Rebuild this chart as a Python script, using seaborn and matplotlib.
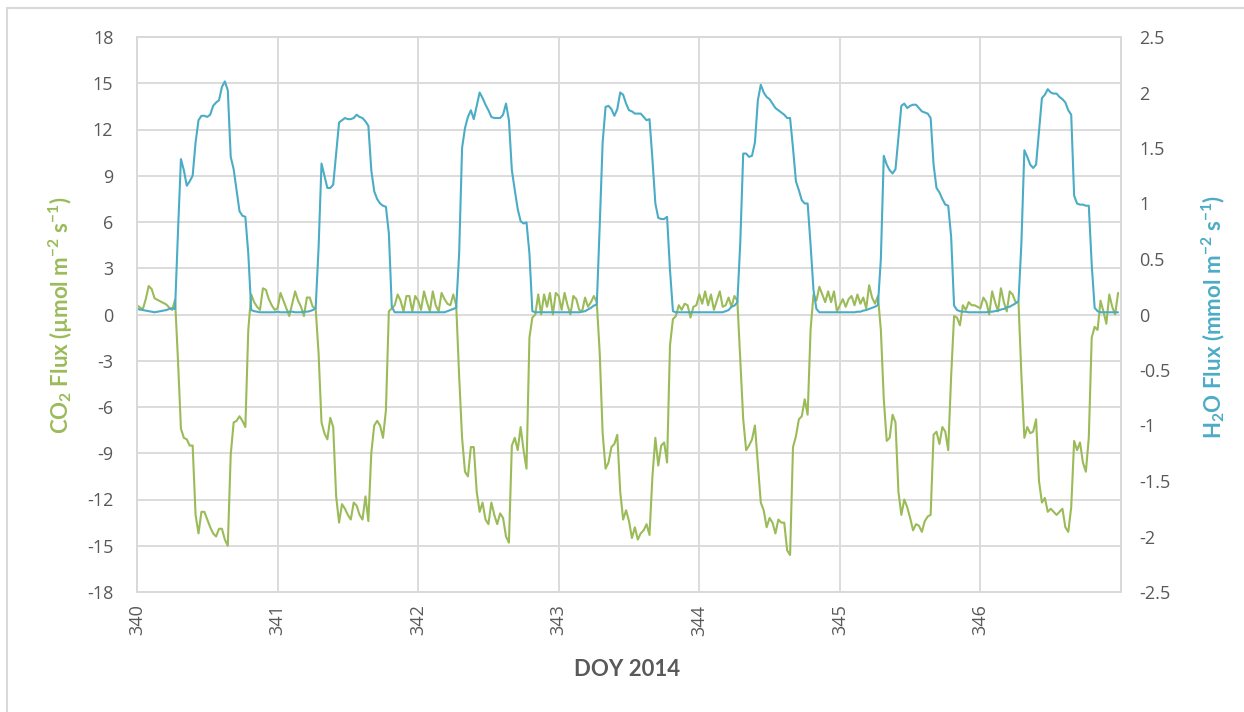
import numpy as np
import pandas as pd
import matplotlib
matplotlib.use("Agg")
import matplotlib.pyplot as plt
import seaborn as sns
from matplotlib.lines import Line2D

# ---------------- data (half-hourly, 48 values per day) ----------------
days = [340, 341, 342, 343, 344, 345, 346]
x_ticks = [340, 341, 342, 343, 344, 345, 346]
co2_ticks = [-18, -15, -12, -9, -6, -3, 0, 3, 6, 9, 12, 15, 18]
h2o_ticks = [-2.5, -2, -1.5, -1, -0.5, 0, 0.5, 1, 1.5, 2, 2.5]
h2o_ticklabels = ["-2.5", "-2", "-1.5", "-1", "-0.5", "0", "0.5", "1", "1.5", "2", "2.5"]

co2_340 = [0.6, 0.45, 0.35, 1.0, 1.85, 1.65, 1.05, 0.95, 0.85, 0.75, 0.65, 0.45, 0.3, 0.95,
           -3.0, -7.4, -8.0, -8.1, -8.5, -8.5, -13.0, -14.2, -12.8, -12.8, -13.3, -13.8, -14.2, -14.4,
           -13.9, -13.9, -14.6, -15.0, -9.1, -7.0, -6.9, -6.6, -6.9, -7.3, -1.0, 1.3, 0.8, 0.5,
           0.3, 1.7, 1.6, 1.0, 0.6, 0.3]
co2_341 = [0.4, 1.4, 0.9, 0.4, -0.1, 0.7, 1.5, 0.9, 0.5, -0.1, 1.1, 1.1, 0.5, 0.4,
           -2.5, -7.0, -7.7, -8.1, -6.7, -7.3, -11.8, -13.5, -12.3, -12.6, -13.0, -13.3, -12.2, -12.4,
           -13.0, -13.3, -11.8, -13.4, -9.0, -7.2, -6.9, -7.2, -8.0, -6.2, 0.2, 0.4, 0.6, 1.3,
           0.9, 0.2, 1.2, 1.2, 0.2, 1.2]
co2_342 = [0.9, 0.3, 1.5, 0.8, 0.2, 1.5, 0.6, 0.2, 1.4, 1.0, 0.7, 0.6, 1.3, 0.6,
           -4.0, -8.0, -10.2, -10.5, -8.6, -8.6, -11.5, -12.8, -12.2, -13.3, -13.6, -12.2, -13.0, -13.6,
           -12.9, -13.2, -14.4, -14.8, -8.5, -8.0, -8.8, -7.3, -8.8, -10.0, -1.5, -0.2, 0.0, 1.3,
           0.0, 1.3, 0.5, 1.4, 0.0, 1.4]
co2_343 = [1.2, 0.3, 1.4, 0.6, 0.0, 1.2, 1.0, 0.3, 0.2, 1.1, 0.5, 0.8, 1.2, 0.8,
           -2.5, -7.7, -10.0, -9.6, -8.6, -8.4, -7.8, -11.5, -13.3, -12.7, -13.4, -14.5, -13.8, -14.6,
           -14.2, -14.0, -13.6, -14.3, -10.5, -8.0, -9.8, -8.5, -8.3, -9.6, -2.0, -0.3, -0.1, 0.6,
           0.3, 0.7, 0.6, -0.2, 0.5, 0.6]
co2_344 = [1.3, 0.7, 1.5, 0.6, 1.3, 0.3, 0.9, 1.5, 0.5, 0.6, 1.1, 0.5, 1.2, 0.9,
           -2.9, -6.8, -8.8, -8.5, -8.1, -7.2, -9.7, -12.2, -12.7, -13.8, -13.2, -13.5, -14.2, -13.3,
           -13.5, -13.5, -15.3, -15.6, -8.6, -7.9, -6.8, -6.6, -5.5, -6.5, -1.0, 1.3, 0.9, 1.8,
           1.3, 0.8, 1.5, 0.8, 1.5, 0.2]
co2_345 = [0.6, 1.0, 0.5, 1.0, 1.2, 0.6, 1.3, 0.7, 1.1, 0.4, 1.9, 1.1, 0.7, 1.2,
           -1.0, -5.5, -8.2, -8.0, -6.5, -7.0, -11.5, -13.0, -12.0, -12.5, -13.2, -14.0, -13.6, -13.7,
           -14.1, -13.4, -13.1, -13.0, -7.8, -7.6, -8.4, -7.3, -7.6, -8.8, -4.0, -0.1, -0.2, -0.7,
           0.6, 0.3, 0.8, 0.6, 0.6, 0.5]
co2_346 = [0.4, 1.1, 0.8, 0.0, 1.5, 0.8, 0.2, 1.7, 0.8, 0.2, 1.5, 1.3, 0.8, 0.8,
           -4.0, -8.0, -7.3, -7.7, -7.6, -6.8, -10.8, -12.2, -11.9, -12.8, -12.6, -12.8, -13.0, -12.8,
           -12.6, -13.8, -14.1, -12.5, -8.2, -8.8, -8.3, -9.6, -10.2, -8.0, -1.5, -0.8, -1.0, 0.9,
           0.2, -0.6, 1.3, 0.5, 0.0, 1.4]

h2o_340 = [0.05, 0.045, 0.04, 0.035, 0.03, 0.025, 0.02, 0.025, 0.03, 0.035, 0.04, 0.05, 0.055, 0.05,
           0.75, 1.40, 1.30, 1.16, 1.20, 1.25, 1.55, 1.75, 1.79, 1.79, 1.78, 1.80, 1.88, 1.91,
           1.93, 2.05, 2.10, 2.02, 1.42, 1.31, 1.12, 0.93, 0.89, 0.88, 0.55, 0.04, 0.03, 0.025,
           0.02, 0.02, 0.02, 0.02, 0.02, 0.02]
h2o_341 = [0.025, 0.02, 0.02, 0.02, 0.025, 0.025, 0.02, 0.02, 0.02, 0.025, 0.025, 0.03, 0.04, 0.055,
           0.6, 1.36, 1.25, 1.14, 1.14, 1.17, 1.45, 1.73, 1.75, 1.77, 1.76, 1.76, 1.77, 1.80,
           1.78, 1.77, 1.74, 1.70, 1.30, 1.11, 1.04, 1.00, 0.98, 0.97, 0.73, 0.07, 0.02, 0.02,
           0.02, 0.02, 0.02, 0.02, 0.02, 0.02]
h2o_342 = [0.02, 0.02, 0.02, 0.02, 0.02, 0.02, 0.02, 0.02, 0.02, 0.02, 0.03, 0.04, 0.05, 0.06,
           0.55, 1.50, 1.68, 1.78, 1.84, 1.76, 1.88, 2.00, 1.95, 1.89, 1.84, 1.78, 1.77, 1.77,
           1.77, 1.80, 1.90, 1.75, 1.30, 1.12, 0.95, 0.84, 0.82, 0.83, 0.55, 0.03, 0.02, 0.02,
           0.02, 0.02, 0.02, 0.02, 0.02, 0.02]
h2o_343 = [0.02, 0.02, 0.02, 0.02, 0.02, 0.02, 0.02, 0.02, 0.025, 0.03, 0.045, 0.06, 0.08, 0.09,
           0.8, 1.55, 1.87, 1.88, 1.85, 1.79, 1.85, 2.00, 1.98, 1.90, 1.84, 1.83, 1.81, 1.81,
           1.81, 1.78, 1.75, 1.76, 1.40, 1.00, 0.87, 0.86, 0.86, 0.88, 0.40, 0.03, 0.02, 0.02,
           0.02, 0.02, 0.02, 0.02, 0.02, 0.02]
h2o_344 = [0.02, 0.02, 0.02, 0.02, 0.02, 0.02, 0.02, 0.02, 0.02, 0.03, 0.04, 0.07, 0.08, 0.11,
           0.65, 1.45, 1.45, 1.42, 1.43, 1.55, 1.93, 2.07, 2.00, 1.96, 1.94, 1.90, 1.86, 1.84,
           1.82, 1.80, 1.77, 1.77, 1.50, 1.20, 1.12, 1.03, 1.00, 1.00, 0.63, 0.22, 0.05, 0.02,
           0.02, 0.02, 0.02, 0.02, 0.02, 0.02]
h2o_345 = [0.02, 0.02, 0.02, 0.02, 0.02, 0.02, 0.025, 0.025, 0.035, 0.04, 0.05, 0.06, 0.07, 0.085,
           0.5, 1.43, 1.35, 1.30, 1.27, 1.31, 1.60, 1.88, 1.90, 1.86, 1.88, 1.89, 1.89, 1.86,
           1.83, 1.82, 1.81, 1.77, 1.35, 1.14, 1.10, 1.04, 0.99, 0.98, 0.70, 0.08, 0.04, 0.03,
           0.025, 0.025, 0.02, 0.02, 0.02, 0.02]
h2o_346 = [0.02, 0.02, 0.02, 0.025, 0.025, 0.03, 0.035, 0.045, 0.05, 0.065, 0.07, 0.085, 0.10, 0.12,
           0.65, 1.48, 1.42, 1.35, 1.32, 1.35, 1.65, 1.95, 1.98, 2.03, 2.00, 1.99, 1.99, 1.96,
           1.94, 1.91, 1.84, 1.80, 1.07, 1.00, 0.99, 0.99, 0.98, 0.98, 0.45, 0.06, 0.03, 0.02,
           0.02, 0.02, 0.02, 0.02, 0.02, 0.02]

co2_days = [co2_340, co2_341, co2_342, co2_343, co2_344, co2_345, co2_346]
h2o_days = [h2o_340, h2o_341, h2o_342, h2o_343, h2o_344, h2o_345, h2o_346]

rows = []
for d, c_list, h_list in zip(days, co2_days, h2o_days):
    for k, (c, h) in enumerate(zip(c_list, h_list)):
        rows.append({"doy": d + k / 48.0, "co2": c, "h2o": h})
df = pd.DataFrame(rows)

# ---------------- style ----------------
sns.set_style("white")
plt.rcParams["font.family"] = ["Open Sans", "DejaVu Sans"]
plt.rcParams["axes.unicode_minus"] = False
plt.rcParams["mathtext.fontset"] = "custom"
plt.rcParams["mathtext.rm"] = "Lato:bold"
plt.rcParams["mathtext.it"] = "Lato:bold:italic"
plt.rcParams["mathtext.bf"] = "Lato:bold"

GREEN = "#9BBB59"
BLUE = "#4BACC6"
GRID = "#D9D9D9"
TXT = "#595959"

W, H = 1244, 712
fig = plt.figure(figsize=(W / 100, H / 100), dpi=100)
L, R, T, B = 137, 1121, 37, 592
ax = fig.add_axes([L / W, 1 - B / H, (R - L) / W, (B - T) / H])
ax2 = ax.twinx()

sns.lineplot(data=df, x="doy", y="co2", ax=ax, color=GREEN, linewidth=1.5)
sns.lineplot(data=df, x="doy", y="h2o", ax=ax2, color=BLUE, linewidth=1.5)

ax.set_xlim(340, 347)
ax.set_ylim(-18, 18)
ax2.set_ylim(-2.5, 2.5)

ax.set_xticks(x_ticks)
ax.set_xticklabels([str(v) for v in x_ticks], rotation=90)
ax.set_yticks(co2_ticks)
ax.set_yticklabels([str(v) for v in co2_ticks])
ax2.set_yticks(h2o_ticks)
ax2.set_yticklabels(h2o_ticklabels)

ax.grid(True, color=GRID, linewidth=1.3)
ax2.grid(False)
for a in (ax, ax2):
    for s in a.spines.values():
        s.set_color(GRID)
        s.set_linewidth(1.3)

ax.tick_params(axis="y", length=0, pad=17, labelsize=13, labelcolor=TXT)
ax.tick_params(axis="x", length=0, pad=9, labelsize=13, labelcolor=TXT)
ax2.tick_params(axis="y", length=0, pad=13, labelsize=13, labelcolor=TXT)

ax.set_xlabel("")
ax.set_ylabel("")
ax2.set_ylabel("")

fig.text(61 / W, 1 - 315 / H, r"CO$_2$ Flux (µmol m$^{-2}$ s$^{-1}$)",
         rotation=90, ha="center", va="center", color=GREEN,
         fontsize=16, fontweight="bold", family=["Lato", "DejaVu Sans"])
fig.text(1213 / W, 1 - 317 / H, r"H$_2$O Flux (mmol m$^{-2}$ s$^{-1}$)",
         rotation=90, ha="center", va="center", color=BLUE,
         fontsize=16, fontweight="bold", family=["Lato", "DejaVu Sans"])
fig.text(627 / W, 1 - 670 / H, "DOY 2014", ha="center", va="center",
         color=TXT, fontsize=16, fontweight="bold", family=["Lato", "DejaVu Sans"])

# outer chart frame (left and top edges visible)
fig.add_artist(Line2D([7 / W, 7 / W], [0, 1 - 8 / H], transform=fig.transFigure,
                      color=GRID, linewidth=1.5))
fig.add_artist(Line2D([7 / W, 1], [1 - 8 / H, 1 - 8 / H], transform=fig.transFigure,
                      color=GRID, linewidth=1.5))

fig.savefig("out.png", dpi=100, facecolor="white")
